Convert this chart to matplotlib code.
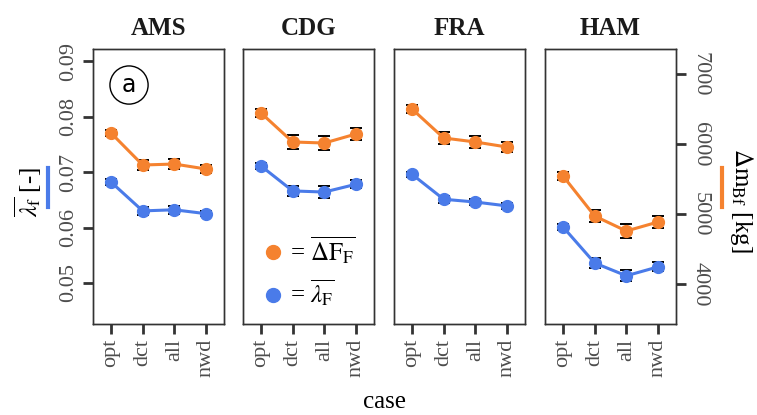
import matplotlib.pyplot as plt
from matplotlib.lines import Line2D

plt.rcParams['font.family'] = ['Liberation Serif', 'DejaVu Serif']
plt.rcParams['mathtext.fontset'] = 'stix'

# ---------- data ----------
airports = ["AMS", "CDG", "FRA", "HAM"]
cases = ["opt", "dct", "all", "nwd"]

# lambda_f (left axis, blue)
lam_ams = [0.0682, 0.0630, 0.0632, 0.0625]
lam_cdg = [0.0711, 0.0666, 0.0664, 0.0678]
lam_fra = [0.0696, 0.0651, 0.0646, 0.0639]
lam_ham = [0.0601, 0.0536, 0.0513, 0.0529]
lam_err_ams = [0.0005, 0.0007, 0.0007, 0.0005]
lam_err_cdg = [0.0005, 0.0009, 0.0010, 0.0007]
lam_err_fra = [0.0005, 0.0006, 0.0006, 0.0006]
lam_err_ham = [0.0005, 0.0009, 0.0010, 0.0008]

# delta m_Bf in kg (right axis, orange)
dm_ams = [6157, 5700, 5714, 5643]
dm_cdg = [6443, 6029, 6014, 6143]
dm_fra = [6500, 6086, 6029, 5957]
dm_ham = [5543, 4971, 4757, 4886]
dm_err_ams = [40, 70, 70, 55]
dm_err_cdg = [55, 100, 100, 85]
dm_err_fra = [55, 85, 85, 70]
dm_err_ham = [55, 85, 100, 85]

lam_all = [lam_ams, lam_cdg, lam_fra, lam_ham]
lam_err_all = [lam_err_ams, lam_err_cdg, lam_err_fra, lam_err_ham]
dm_all = [dm_ams, dm_cdg, dm_fra, dm_ham]
dm_err_all = [dm_err_ams, dm_err_cdg, dm_err_fra, dm_err_ham]

orange = "#f5822f"
blue = "#4a7be9"
gray = "#4d4d4d"

W, H = 757, 415
fig = plt.figure(figsize=(W / 100, H / 100), dpi=100)

lefts = [93, 243, 394, 545]
pw, top, bottom = 131, 49, 324

for i, ap in enumerate(airports):
    ax = fig.add_axes([lefts[i] / W, 1 - bottom / H, pw / W, (bottom - top) / H])
    ax2 = ax.twinx()
    x = range(len(cases))

    ax.errorbar(x, lam_all[i], yerr=lam_err_all[i], color=blue, lw=2.2,
                marker="o", ms=8.5, ecolor="black", elinewidth=1.4, capsize=4,
                capthick=1.4, zorder=3)
    ax2.errorbar(x, dm_all[i], yerr=dm_err_all[i], color=orange, lw=2.2,
                 marker="o", ms=8.5, ecolor="black", elinewidth=1.4, capsize=4,
                 capthick=1.4, zorder=3)

    ax.set_xlim(-0.57, 3.57)
    ax.set_ylim(0.0426, 0.0922)
    ax2.set_ylim(3429, 7357)
    ax.set_xticks(list(x))
    ax.set_xticklabels(cases, rotation=90, fontsize=16, color=gray)
    ax.set_yticks([0.05, 0.06, 0.07, 0.08, 0.09])
    ax2.set_yticks([4000, 5000, 6000, 7000])
    ax.set_title(ap, fontsize=18, fontweight="bold", pad=10, color="#1a1a1a")

    for a in (ax, ax2):
        for s in a.spines.values():
            s.set_color("#333333")
            s.set_linewidth(1.0)
        a.tick_params(length=7, width=2, color="#333333")

    if i == 0:
        ax.set_yticklabels(["0.05", "0.06", "0.07", "0.08", "0.09"],
                           rotation=90, va="center", fontsize=16, color=gray)
    else:
        ax.tick_params(axis="y", left=False, labelleft=False)
    if i == 3:
        ax2.set_yticklabels(["4000", "5000", "6000", "7000"],
                            rotation=-90, va="center", fontsize=16, color=gray)
    else:
        ax2.tick_params(axis="y", right=False, labelright=False)

    if i == 0:
        ax.text(0.275, 0.869, "a", transform=ax.transAxes, fontsize=17,
                family="DejaVu Sans", ha="center", va="center",
                bbox=dict(boxstyle="circle,pad=0.3", fc="white", ec="black", lw=1.0))
    if i == 1:
        handles = [Line2D([], [], color=orange, marker="o", ls="", ms=10),
                   Line2D([], [], color=blue, marker="o", ls="", ms=10)]
        ax.legend(handles, [r"= $\overline{\Delta \mathrm{F}_\mathrm{F}}$",
                            r"= $\overline{\lambda_\mathrm{F}}$"],
                  loc="lower left", bbox_to_anchor=(0.0, 0.0), frameon=False,
                  fontsize=18, handletextpad=0.1, labelspacing=0.45,
                  borderaxespad=0.2, handlelength=1.2)

# axis labels
fig.text(28 / W, 1 - 192 / H, r"$\overline{\lambda_\mathrm{f}}$ [-]", rotation=90,
         ha="center", va="center", fontsize=18)
fig.add_artist(Line2D([48 / W, 48 / W], [1 - 207 / H, 1 - 168 / H],
                      color=blue, lw=3, transform=fig.transFigure))
fig.text(742 / W, 1 - 200 / H, r"$\Delta\mathrm{m}_\mathrm{Bf}$ [kg]", rotation=-90,
         ha="center", va="center", fontsize=18)
fig.add_artist(Line2D([722 / W, 722 / W], [1 - 207 / H, 1 - 168 / H],
                      color=orange, lw=3, transform=fig.transFigure))
fig.text(384 / W, 1 - 402 / H, "case", ha="center", va="center", fontsize=18)

fig.savefig("out.png", dpi=100)
